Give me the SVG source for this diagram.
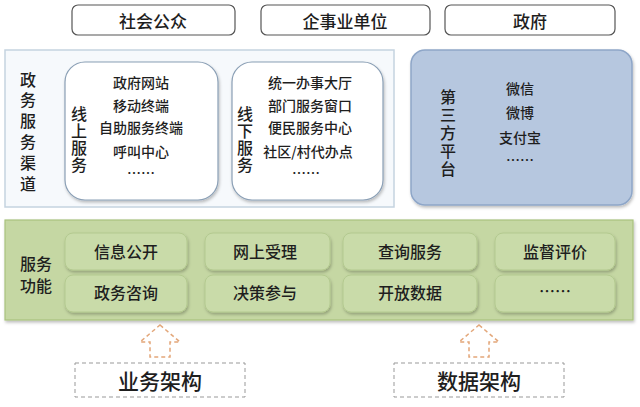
<svg xmlns="http://www.w3.org/2000/svg" width="640" height="407" viewBox="0 0 640 407">
<defs>
<style>
text{font-family:"Noto Sans CJK SC","Noto Sans",sans-serif;fill:#1e1e1e;text-anchor:middle;dominant-baseline:central;font-weight:500}
.v{writing-mode:vertical-rl;dominant-baseline:auto}
.top{fill:#fff;stroke:#555;stroke-width:1.2}
.t17{font-size:16px}
.tt{font-size:17px}
.t15{font-size:14px}
.cell{fill:#c9dba9;stroke:#b3c98f;stroke-width:1}
.cellt{font-size:16px}
.arr{fill:#fff;stroke:#e3a77a;stroke-width:1.5;stroke-dasharray:4 3}
.base{fill:#fff;stroke:#999;stroke-width:1;stroke-dasharray:4 3}
</style>
<filter id="sh" x="-10%" y="-10%" width="120%" height="130%">
<feDropShadow dx="1" dy="2" stdDeviation="1.5" flood-color="#000" flood-opacity="0.25"/>
</filter>
</defs>
<rect width="640" height="407" fill="#fff"/>

<g id="top-gongzhong"><rect class="top" x="72" y="5" width="163" height="30" rx="6"/><text class="tt" x="153" y="20">社会公众</text></g>
<g id="top-qishiye"><rect class="top" x="261" y="5" width="169" height="30" rx="6"/><text class="tt" x="345" y="20">企事业单位</text></g>
<g id="top-zhengfu"><rect class="top" x="445" y="5" width="170" height="30" rx="6"/><text class="tt" x="530" y="20">政府</text></g>

<g id="channels">
<rect x="5" y="50" width="389" height="157" fill="#f6f9fc" stroke="#c5d3e0" stroke-width="1.5"/>
<text class="t17 v" x="28" y="134" letter-spacing="4.8">政务服务渠道</text>
</g>

<g id="online">
<rect x="65" y="62" width="153" height="138" rx="20" fill="#fff" stroke="#8a9fb5" stroke-width="1.2" filter="url(#sh)"/>
<text class="t17 v" x="79" y="140" letter-spacing="1">线上服务</text>
<text class="t15" x="141" y="82">政府网站</text>
<text class="t15" x="141" y="105">移动终端</text>
<text class="t15" x="141" y="127">自助服务终端</text>
<text class="t15" x="141" y="151">呼叫中心</text>
<text class="t15" x="141" y="172">……</text>
</g>

<g id="offline">
<rect x="232" y="62" width="151" height="138" rx="20" fill="#fff" stroke="#8a9fb5" stroke-width="1.2" filter="url(#sh)"/>
<text class="t17 v" x="245" y="140" letter-spacing="1">线下服务</text>
<text class="t15" x="310" y="82">统一办事大厅</text>
<text class="t15" x="310" y="105">部门服务窗口</text>
<text class="t15" x="310" y="127">便民服务中心</text>
<text class="t15" x="308" y="151">社区/村代办点</text>
<text class="t15" x="306" y="172">……</text>
</g>

<g id="thirdparty">
<rect x="411" y="50" width="221" height="155" rx="14" fill="#b6c7df" stroke="#8ea6c8" stroke-width="1.5" filter="url(#sh)"/>
<text class="t17 v" x="448" y="134" letter-spacing="2">第三方平台</text>
<text class="t15" x="520" y="88">微信</text>
<text class="t15" x="520" y="112">微博</text>
<text class="t15" x="520" y="137">支付宝</text>
<text class="t15" x="520" y="159">……</text>
</g>

<g id="functions">
<rect x="5" y="220" width="628" height="100" fill="#c5d7a3" stroke="#a8c27e" stroke-width="1.2" filter="url(#sh)"/>
<text class="t17" x="36" y="263">服务</text>
<text class="t17" x="36" y="285">功能</text>
<g id="f1"><rect class="cell" x="65" y="233" width="122" height="37" rx="8" filter="url(#sh)"/><text class="cellt" x="126" y="251">信息公开</text></g>
<g id="f2"><rect class="cell" x="205" y="233" width="125" height="37" rx="8" filter="url(#sh)"/><text class="cellt" x="265" y="251">网上受理</text></g>
<g id="f3"><rect class="cell" x="343" y="233" width="134" height="37" rx="8" filter="url(#sh)"/><text class="cellt" x="410" y="251">查询服务</text></g>
<g id="f4"><rect class="cell" x="495" y="233" width="120" height="37" rx="8" filter="url(#sh)"/><text class="cellt" x="555" y="251">监督评价</text></g>
<g id="f5"><rect class="cell" x="65" y="275" width="122" height="37" rx="8" filter="url(#sh)"/><text class="cellt" x="126" y="292">政务咨询</text></g>
<g id="f6"><rect class="cell" x="205" y="275" width="125" height="37" rx="8" filter="url(#sh)"/><text class="cellt" x="265" y="292">决策参与</text></g>
<g id="f7"><rect class="cell" x="343" y="275" width="134" height="37" rx="8" filter="url(#sh)"/><text class="cellt" x="410" y="292">开放数据</text></g>
<g id="f8"><rect class="cell" x="495" y="275" width="120" height="37" rx="8" filter="url(#sh)"/><text class="cellt" x="555" y="290">……</text></g>
</g>

<g id="connectors">
<path class="arr" d="M160 325 L180 342 L170 342 L170 357 L150 357 L150 342 L140 342 Z"/>
<path class="arr" d="M479 325 L499 342 L489 342 L489 357 L469 357 L469 342 L459 342 Z"/>
</g>

<g id="yewu"><rect class="base" x="75" y="363" width="170" height="34"/><text x="160" y="380" font-size="21">业务架构</text></g>
<g id="shuju"><rect class="base" x="394" y="363" width="170" height="34"/><text x="479" y="380" font-size="21">数据架构</text></g>
</svg>
